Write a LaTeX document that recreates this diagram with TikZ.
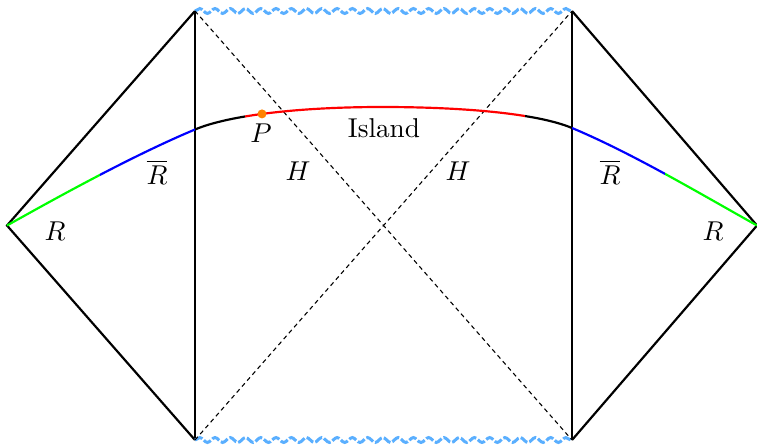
\documentclass[tikz,border=0pt]{standalone}
\usepackage{amsmath}
\usepackage{xcolor}
\usetikzlibrary{decorations.pathmorphing}
\definecolor{islandred}{RGB}{255, 0, 0}
\definecolor{rbarblue}{RGB}{0, 0, 255}
\definecolor{radgreen}{RGB}{0, 255, 0}
\definecolor{ptorange}{RGB}{255, 130, 0}
\definecolor{singblue}{RGB}{90, 175, 255}

\begin{document}
\begin{tikzpicture}[x=0.367pt, y=0.367pt,
    bdry/.style={line width=0.8pt, black},
    horizon/.style={line width=0.4pt, dash pattern=on 1.6pt off 1.3pt},
    singular/.style={singblue, line width=1.1pt, dash pattern=on 3pt off 0.8pt,
      decorate, decoration={snake, amplitude=0.9pt, segment length=5.6pt}},
    slice/.style={line width=0.8pt},
    lab/.style={font=\normalsize}]

  \useasboundingbox (-382,-218.5) rectangle (375,225.5);

  % ── Corners of the two wedges and the middle ─────────────────────────────
  \coordinate (L)  at (-375, 0);
  \coordinate (TL) at (-187, 214.5);
  \coordinate (BL) at (-187,-214.5);
  \coordinate (TR) at (190, 214.5);
  \coordinate (BR) at (190,-214.5);
  \coordinate (R)  at (375, 0);
  % where the slice crosses the wedge boundaries, and its top
  \coordinate (A)  at (-187, 96);
  \coordinate (B)  at (190, 97.5);
  \coordinate (M)  at (0, 118.5);
  \coordinate (P)  at (-120, 111.6);

  % ── Wedge boundaries ─────────────────────────────────────────────────────
  \draw[bdry] (TL) -- (L) -- (BL);
  \draw[bdry] (TL) -- (BL);
  \draw[bdry] (TR) -- (R) -- (BR);
  \draw[bdry] (TR) -- (BR);

  % ── Singularities ────────────────────────────────────────────────────────
  \draw[singular] (TL) -- (TR);
  \draw[singular] (BL) -- (BR);

  % ── Horizons ─────────────────────────────────────────────────────────────
  \draw[horizon] (TL) -- (BR);
  \draw[horizon] (BL) -- (TR);

  % ── Cauchy slice, coloured piece by piece ────────────────────────────────
  \foreach \xa/\xb/\col in {-400/-282/radgreen, -282/-187/rbarblue,
      -187/-137/black, -137/143/islandred, 143/190/black,
      190/283/rbarblue, 283/400/radgreen} {
    \begin{scope}
      \clip (\xa,-250) rectangle (\xb,250);
      \draw[slice, \col] (L) .. controls (-315,33.6) and (-247,70.8) .. (A)
        .. controls (-152,110.7) and (-80,118.5) .. (M)
        .. controls (80,118.5) and (155,112.2) .. (B)
        .. controls (250,72.3) and (315,33.6) .. (R);
    \end{scope}
  }

  % ── Point P ──────────────────────────────────────────────────────────────
  \fill[ptorange] (P) circle (1.65pt);

  % ── Labels ───────────────────────────────────────────────────────────────
  \node[lab] (labP)  at (-121, 92.5) {$P$};
  \node[lab] (isl)   at (2, 97.5)    {Island};
  \node[lab] (hL)    at (-84, 54.5)  {$H$};
  \node[lab] (hR)    at (76, 54.5)   {$H$};
  \node[lab] (rbL)   at (-225, 53.5) {$\overline{R}$};
  \node[lab] (rbR)   at (228, 53.5)  {$\overline{R}$};
  \node[lab] (rL)    at (-327,-5.5)  {$R$};
  \node[lab] (rR)    at (331,-5.5)   {$R$};

\end{tikzpicture}
\end{document}
